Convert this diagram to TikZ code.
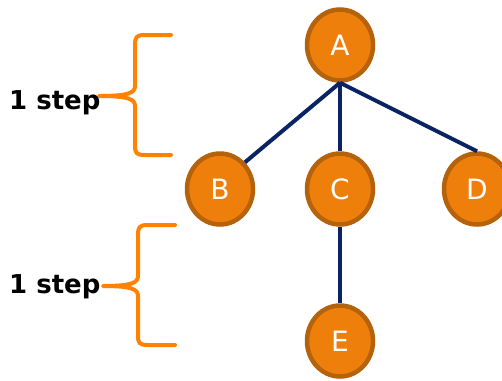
\documentclass[tikz,border=0pt]{standalone}
\usepackage{fontspec}
\setmainfont{DejaVu Sans}
\usetikzlibrary{shapes.geometric}
\begin{document}
\begin{tikzpicture}[x=1pt,y=-1pt,
  treenode/.style={ellipse, draw=nodeedge, fill=nodefill, line width=4.5pt,
    minimum width=66pt, minimum height=71pt, inner sep=0pt,
    text=white, font=\fontsize{28}{30}\selectfont},
  link/.style={draw=linkblue, line width=4pt},
  bracecurve/.style={draw=braceorange, line width=4pt, line cap=round, line join=round},
  steplabel/.style={anchor=west, inner sep=0pt, font=\bfseries\fontsize{26}{30}\selectfont}]
\definecolor{nodefill}{HTML}{EF7F0B}
\definecolor{nodeedge}{HTML}{B5620C}
\definecolor{linkblue}{HTML}{0A2364}
\definecolor{braceorange}{HTML}{FF8205}
\useasboundingbox (0,0) rectangle (502,380);

% tree nodes
\node[treenode] (A) at (340,45) {A};
\node[treenode] (B) at (220,189) {B};
\node[treenode] (C) at (340,189) {C};
\node[treenode] (D) at (477,189) {D};
\node[treenode] (E) at (340,341) {E};

% tree edges
\draw[link] (A.south) -- (B.north east);
\draw[link] (A.south) -- (C.north);
\draw[link] (A.south) -- (D.north);
\draw[link] (C.south) -- (E.north);

% braces and labels
\coordinate (b1top) at (171,35);
\coordinate (b1bot) at (171,155);
\coordinate (b1tip) at (99,96);
\draw[bracecurve] (b1top) -- (145,35) .. controls (136,35) and (135,37) .. (135,46)
  -- (135,86) .. controls (135,93) and (128,96) .. (b1tip)
  .. controls (128,96) and (135,99) .. (135,106)
  -- (135,145) .. controls (135,153) and (136,155) .. (145,155) -- (b1bot);
\node[steplabel] (s1) at (9,103) {1 step};

\coordinate (b2top) at (175,225);
\coordinate (b2bot) at (175,345);
\coordinate (b2tip) at (103,286);
\draw[bracecurve] (b2top) -- (148,225) .. controls (139,225) and (138,227) .. (138,236)
  -- (138,276) .. controls (138,283) and (131,286) .. (b2tip)
  .. controls (131,286) and (138,289) .. (138,296)
  -- (138,335) .. controls (138,343) and (139,345) .. (148,345) -- (b2bot);
\node[steplabel] (s2) at (9,287) {1 step};
\end{tikzpicture}
\end{document}
